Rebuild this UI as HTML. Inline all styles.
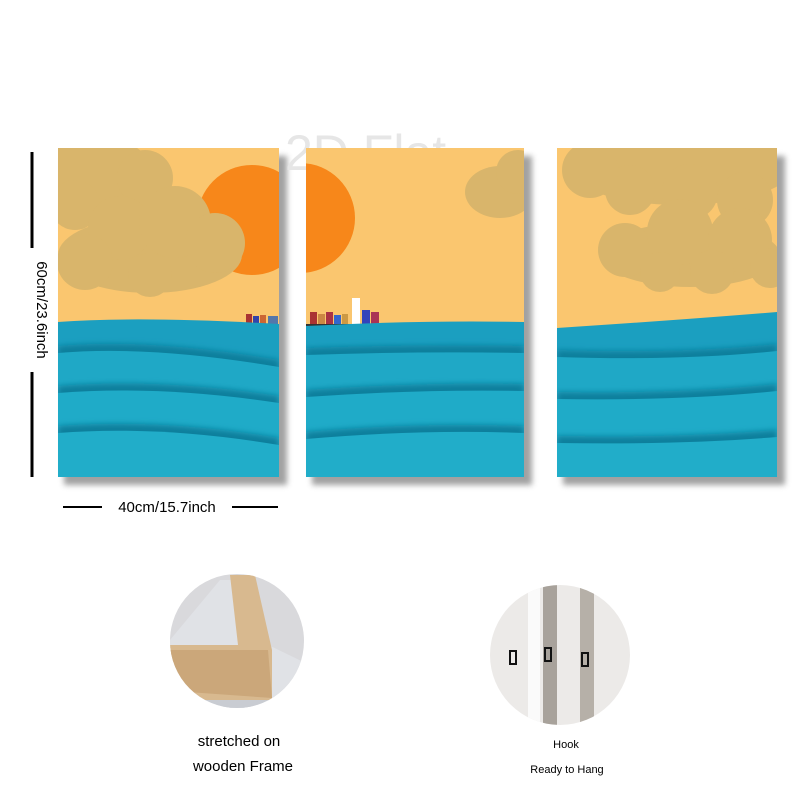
<!DOCTYPE html>
<html><head><meta charset="utf-8"><style>
html,body{margin:0;padding:0;background:#fff;width:800px;height:800px;overflow:hidden}
svg{display:block}
text{font-family:"Liberation Sans",sans-serif}
</style></head><body>
<svg width="800" height="800" viewBox="0 0 800 800">
<defs>
<clipPath id="c1"><rect x="58" y="148" width="221" height="329"/></clipPath>
<clipPath id="c2"><rect x="306" y="148" width="218" height="329"/></clipPath>
<clipPath id="c3"><rect x="557" y="148" width="220" height="329"/></clipPath>
<clipPath id="cc1"><circle cx="237" cy="641" r="67"/></clipPath>
<clipPath id="cc2"><circle cx="560" cy="655" r="70"/></clipPath>
<filter id="sh" x="-10%" y="-10%" width="130%" height="130%"><feGaussianBlur stdDeviation="3"/></filter>
<filter id="bl" x="-10%" y="-50%" width="120%" height="200%"><feGaussianBlur stdDeviation="3"/></filter>
</defs>
<g fill="#555" opacity="0.55" filter="url(#sh)">
<rect x="64" y="156" width="223" height="329"/><rect x="312" y="156" width="220" height="329"/><rect x="563" y="156" width="222" height="329"/>
</g>
<text x="285" y="170" font-size="50" fill="#e6e6e6" font-family="Liberation Serif">2D Flat</text>
<g clip-path="url(#c1)">
<rect x="58" y="148" width="221" height="329" fill="#fac66f"/>
<circle cx="252" cy="220" r="55" fill="#f7871a"/>
<g fill="#d9b56b">
<ellipse cx="95" cy="178" rx="60" ry="42"/><circle cx="145" cy="178" r="28"/><circle cx="75" cy="205" r="25"/>
<ellipse cx="150" cy="255" rx="92" ry="38"/><circle cx="120" cy="228" r="32"/><circle cx="175" cy="222" r="36"/><circle cx="215" cy="243" r="30"/><circle cx="85" cy="262" r="28"/><circle cx="150" cy="275" r="22"/>
</g>
<g><path d="M232 324 L280 324 L280 334 L242 334 Z" fill="#333"/><rect x="246" y="314" width="6" height="10" fill="#a33"/><rect x="253" y="316" width="6" height="8" fill="#34a"/><rect x="260" y="315" width="6" height="9" fill="#c63"/><rect x="268" y="316" width="10" height="8" fill="#57a"/></g>
<path d="M58 322 Q140 316 279 324 L279 477 L58 477 Z" fill="#1b9fc0"/>
<path d="M58 346 Q150 338 279 360 L279 477 L58 477 Z" fill="#0f7f9c" filter="url(#bl)"/>
<path d="M58 353 Q150 345 279 367 L279 477 L58 477 Z" fill="#1fa8c6"/>
<path d="M58 386 Q160 378 279 396 L279 477 L58 477 Z" fill="#0f7f9c" filter="url(#bl)"/>
<path d="M58 393 Q160 385 279 403 L279 477 L58 477 Z" fill="#1fabc8"/>
<path d="M58 426 Q160 418 279 438 L279 477 L58 477 Z" fill="#0f7f9c" filter="url(#bl)"/>
<path d="M58 433 Q160 425 279 445 L279 477 L58 477 Z" fill="#21adc9"/>
</g>
<g clip-path="url(#c2)">
<rect x="306" y="148" width="218" height="329" fill="#fac66f"/>
<circle cx="300" cy="218" r="55" fill="#f7871a"/>
<g fill="#d9b56b"><ellipse cx="500" cy="192" rx="35" ry="26"/><circle cx="518" cy="172" r="22"/></g>
<g><path d="M306 324 L380 324 L375 334 L306 334 Z" fill="#333"/><rect x="310" y="312" width="7" height="12" fill="#a33"/><rect x="318" y="314" width="7" height="10" fill="#c84"/><rect x="326" y="312" width="7" height="12" fill="#a34"/><rect x="334" y="315" width="7" height="9" fill="#36c"/><rect x="342" y="314" width="6" height="10" fill="#c94"/><rect x="352" y="298" width="8" height="26" fill="#fff"/><rect x="362" y="310" width="8" height="14" fill="#34b"/><rect x="371" y="312" width="8" height="12" fill="#a35"/></g>
<path d="M306 326 Q420 320 524 322 L524 477 L306 477 Z" fill="#1b9fc0"/>
<path d="M306 348 Q420 344 524 346 L524 477 L306 477 Z" fill="#0f7f9c" filter="url(#bl)"/>
<path d="M306 355 Q420 351 524 353 L524 477 L306 477 Z" fill="#1fa8c6"/>
<path d="M306 390 Q420 382 524 384 L524 477 L306 477 Z" fill="#0f7f9c" filter="url(#bl)"/>
<path d="M306 397 Q420 389 524 391 L524 477 L306 477 Z" fill="#1fabc8"/>
<path d="M306 432 Q420 422 524 426 L524 477 L306 477 Z" fill="#0f7f9c" filter="url(#bl)"/>
<path d="M306 439 Q420 429 524 433 L524 477 L306 477 Z" fill="#21adc9"/>
</g>
<g clip-path="url(#c3)">
<rect x="557" y="148" width="220" height="329" fill="#fac66f"/>
<g fill="#d9b56b">
<ellipse cx="680" cy="165" rx="115" ry="40"/><circle cx="630" cy="190" r="25"/><circle cx="690" cy="192" r="28"/><circle cx="745" cy="200" r="28"/><circle cx="590" cy="170" r="28"/>
<ellipse cx="690" cy="255" rx="90" ry="32"/><circle cx="625" cy="250" r="27"/><circle cx="680" cy="232" r="33"/><circle cx="740" cy="240" r="32"/><circle cx="712" cy="272" r="22"/><circle cx="660" cy="272" r="20"/><circle cx="770" cy="268" r="20"/>
</g>
<path d="M557 328 Q680 320 777 312 L777 477 L557 477 Z" fill="#1b9fc0"/>
<path d="M557 350 Q680 354 777 344 L777 477 L557 477 Z" fill="#0f7f9c" filter="url(#bl)"/>
<path d="M557 357 Q680 361 777 351 L777 477 L557 477 Z" fill="#1fa8c6"/>
<path d="M557 392 Q680 394 777 384 L777 477 L557 477 Z" fill="#0f7f9c" filter="url(#bl)"/>
<path d="M557 399 Q680 401 777 391 L777 477 L557 477 Z" fill="#1fabc8"/>
<path d="M557 436 Q680 438 777 430 L777 477 L557 477 Z" fill="#0f7f9c" filter="url(#bl)"/>
<path d="M557 443 Q680 445 777 437 L777 477 L557 477 Z" fill="#21adc9"/>
</g>
<g>
<line x1="32" y1="152" x2="32" y2="248" stroke="#000" stroke-width="3"/>
<line x1="32" y1="372" x2="32" y2="477" stroke="#000" stroke-width="3"/>
<text x="32" y="310" font-size="15" text-anchor="middle" transform="rotate(90 32 310)" dy="-5" fill="#000">60cm/23.6inch</text>
</g>
<g>
<line x1="63" y1="507" x2="102" y2="507" stroke="#000" stroke-width="2"/>
<line x1="232" y1="507" x2="278" y2="507" stroke="#000" stroke-width="2"/>
<text x="167" y="512" font-size="15" text-anchor="middle" fill="#000">40cm/15.7inch</text>
</g>
<g clip-path="url(#cc1)">
<rect x="160" y="570" width="160" height="150" fill="#d9d9dc"/>
<path d="M220 580 L250 580 L258 640 L320 670 L320 720 L160 720 L160 660 L170 640 Z" fill="#e0e2e6"/>
<path d="M230 575 L255 575 L272 650 L272 700 L160 700 L160 645 L238 645 Z" fill="#d8b98f"/>
<path d="M160 650 L268 650 L272 698 L160 690 Z" fill="#cba77a"/>
<rect x="160" y="700" width="160" height="20" fill="#c9ccd2"/>
</g>
<g clip-path="url(#cc2)">
<rect x="488" y="583" width="145" height="145" fill="#eceae8"/>
<rect x="543" y="583" width="14" height="145" fill="#a8a29b"/>
<rect x="580" y="583" width="14" height="145" fill="#b6b0a8"/>
<rect x="528" y="583" width="12" height="145" fill="#fafafa"/>
<g fill="none" stroke="#111" stroke-width="2"><rect x="510" y="651" width="6" height="13"/><rect x="545" y="648" width="6" height="13"/><rect x="582" y="653" width="6" height="13"/></g>
</g>
<text x="239" y="746" font-size="15" text-anchor="middle" fill="#000">stretched on</text>
<text x="243" y="771" font-size="15" text-anchor="middle" fill="#000">wooden Frame</text>
<text x="566" y="748" font-size="11" text-anchor="middle" fill="#000">Hook</text>
<text x="567" y="773" font-size="11" text-anchor="middle" fill="#000">Ready to Hang</text>
</svg>
</body></html>
